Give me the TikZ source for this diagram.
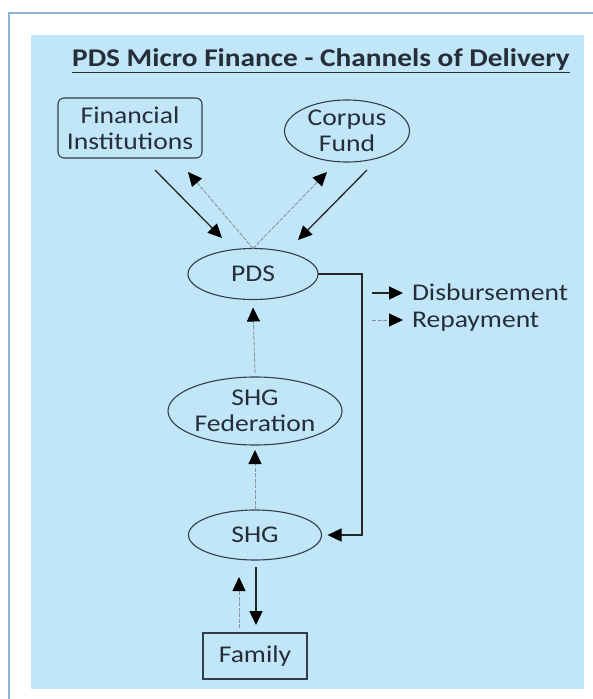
\documentclass[tikz,border=0pt]{standalone}
\usepackage{fontspec}
\setmainfont{Carlito}[FakeStretch=1.15]
\usetikzlibrary{arrows.meta,shapes.geometric}
\definecolor{bgblue}{RGB}{193,230,248}
\definecolor{frameblue}{RGB}{140,180,214}
\definecolor{txt}{RGB}{38,46,58}
\definecolor{edge}{RGB}{50,62,76}
\definecolor{repaycol}{RGB}{135,148,160}
\tikzset{
  lbl/.style={font=\fontsize{24}{26}\selectfont, text=txt, align=center, inner sep=0pt, outer sep=0pt},
  oval/.style={lbl, ellipse, draw=edge, line width=1.1pt},
  boxnode/.style={lbl, rectangle, draw=edge, line width=1.1pt},
  tipk/.style={-{Triangle[length=14pt,width=13pt,color=black]}},
  disb/.style={draw=black!85, line width=1.3pt, tipk},
  repay/.style={draw=repaycol, line width=0.9pt, dash pattern=on 4pt off 1.5pt, tipk}
}
\begin{document}
\begin{tikzpicture}[x=1pt,y=-1pt]
\useasboundingbox (0,0) rectangle (593,699);
\fill[white] (0,0) rectangle (593,699);
\fill[bgblue] (31,35) rectangle (584,689);
\draw[frameblue, line width=1.2pt] (9,699) -- (9,13) -- (593,13);

\node[lbl, font=\fontsize{25.5}{28}\selectfont\bfseries] (title) at (321,61) {\underline{PDS Micro Finance - Channels of Delivery}};

\node[boxnode, rounded corners=6pt, minimum width=144pt, minimum height=60pt] (fi) at (130,128) {Financial\\Institutions};
\node[oval, minimum width=125pt, minimum height=62pt] (corpus) at (347,131) {Corpus\\Fund};
\node[oval, minimum width=130pt, minimum height=51pt] (pds) at (253,274) {PDS};
\node[oval, minimum width=174pt, minimum height=68pt] (fed) at (255,411) {SHG\\Federation};
\node[oval, minimum width=133pt, minimum height=50pt] (shg) at (255,535) {SHG};
\node[boxnode, minimum width=104pt, minimum height=46pt] (family) at (255,656) {Family};

% free ends of the upper arrows
\coordinate (fiout) at (155,170);
\coordinate (fiin) at (188,172);
\coordinate (pdsinl) at (222,238);
\coordinate (pdsinr) at (298,240);
\coordinate (coout) at (367,170);
\coordinate (coin) at (327,172);
\coordinate (bend) at (362,274);

\draw[disb] (fiout) -- (pdsinl);
\draw[disb] (coout) -- (pdsinr);
\draw[repay] (pds.north) -- (fiin);
\draw[repay] (pds.north) -- (coin);

\draw[disb] (pds.east) -- (bend) |- ([xshift=6pt]shg.east);

\draw[repay] ([yshift=4pt]fed.north) -- ([yshift=-8pt]pds.south);
\draw[repay] (shg.north) -- ([yshift=-5pt]fed.south);

\draw[repay] ([xshift=-16pt,yshift=5pt]family.north) -- ([xshift=-16pt,yshift=-17pt]shg.south);
\draw[disb] ([xshift=1pt,yshift=-7pt]shg.south) -- ([xshift=1pt,yshift=8pt]family.north);

% legend
\coordinate (l1s) at (372,293);
\coordinate (l1e) at (403,293);
\coordinate (l2s) at (372,320);
\coordinate (l2e) at (403,320);
\draw[disb] (l1s) -- (l1e);
\draw[repay] (l2s) -- (l2e);
\node[lbl, anchor=base west] (ldisb) at (412,300) {Disbursement};
\node[lbl, anchor=base west] (lrep) at (412,327) {Repayment};
\end{tikzpicture}
\end{document}
